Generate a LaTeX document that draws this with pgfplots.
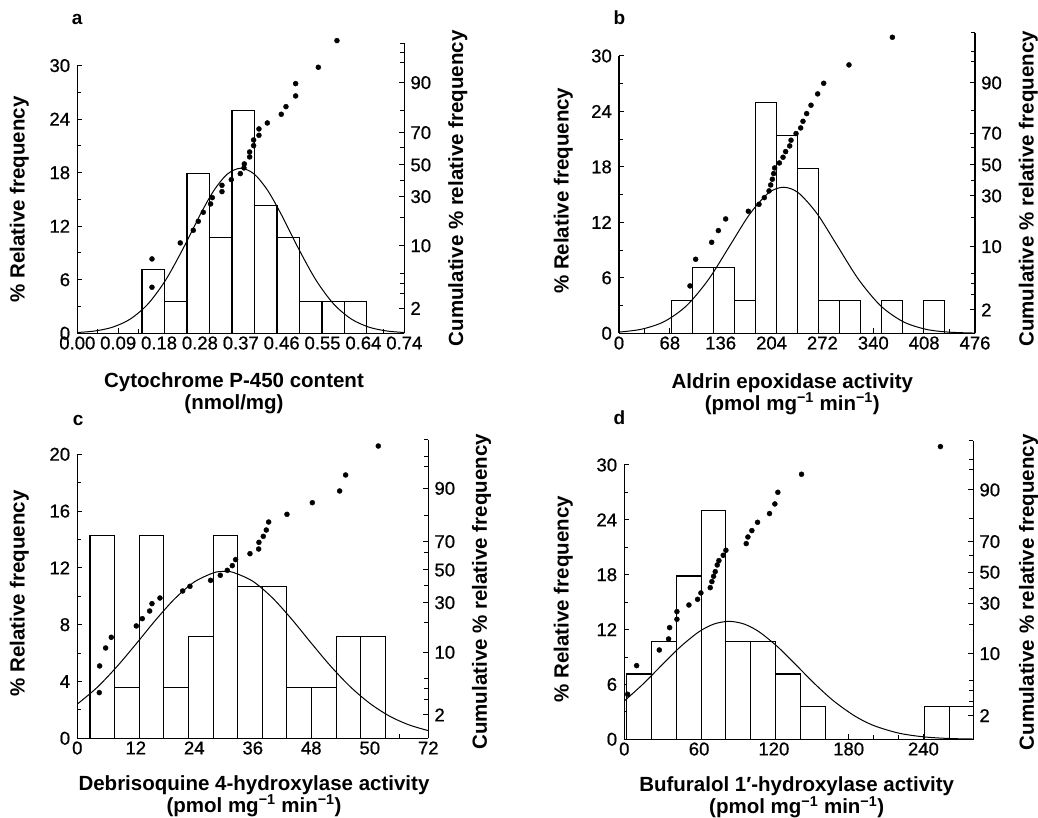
\documentclass[border=0pt]{standalone}
\usepackage{fontspec}
\setmainfont{Liberation Sans}
\newfontfamily\tickfont{Liberation Sans}[FakeBold=0.7]
\usepackage{pgfplots}
\pgfplotsset{compat=1.18}

\newcommand{\ticksize}{\tickfont\fontsize{18.5}{20}\selectfont}
\newcommand{\labsize}{\fontsize{20.5}{22}\selectfont\bfseries}
\newcommand{\letsize}{\fontsize{19}{20}\selectfont\bfseries}

\pgfplotsset{
  panel/.style={
    scale only axis, clip=false, anchor=south west,
    axis line style={-, line width=1.4pt},
    tick align=inside,
    major tick length=5pt, minor tick length=4pt,
    tick style={black, line width=1pt},
    tick label style={font=\ticksize},
    label style={font=\labsize},
    /pgf/number format/assume math mode=true,
  },
  freq/.style={
    panel,
    axis x line*=bottom, axis y line*=left,
    ymin=0,
    xticklabel style={inner sep=0pt, yshift=-3pt},
    yticklabel style={inner sep=0pt, xshift=-7pt},
    minor x tick num=1, minor y tick num=1,
    ylabel={\% Relative frequency},
    xlabel style={align=center, anchor=north, inner sep=0pt},
  },
  cum/.style={
    panel,
    axis x line=none, axis y line*=right,
    yticklabel style={inner sep=0pt, xshift=6pt},
    yticklabels={2,10,30,50,70,90},
    ylabel={Cumulative \% relative frequency},
  },
  hist/.style={ybar, bar width=#1, bar shift=0pt, fill=white, draw=black, line width=1.1pt},
  curve/.style={smooth, no marks, black, line width=1pt},
  dots/.style={only marks, mark=*, mark size=2.5pt, black},
}

\begin{document}
\begin{tikzpicture}
\path[use as bounding box] (0,0) rectangle (1038pt,818pt);

% ---------- a ----------
\begin{axis}[freq, at={(77.3pt,484.7pt)}, width=327pt, height=267.7pt,
  xmin=0, xmax=0.74, ymax=30,
  xtick={0,0.0925,0.185,0.2775,0.37,0.4625,0.555,0.6475,0.74},
  xticklabels={0.00,0.09,0.18,0.28,0.37,0.46,0.55,0.64,0.74},
  ytick={0,6,...,30},
  xlabel={Cytochrome P-450 content\\(nmol/mg)},
  xlabel style={at={(axis description cs:0.5,0)}, yshift=-39.4pt, xshift=-6.8pt},
  ylabel style={at={(axis description cs:-0.177,0.5)}, anchor=center},
]
\addplot[hist=0.0509] coordinates {
  (0.1719,7.14) (0.2228,3.57) (0.2737,17.86) (0.3246,10.71) (0.3755,25.00)
  (0.4264,14.29) (0.4773,10.71) (0.5282,3.57) (0.5791,3.57) (0.6300,3.57)};
\addplot[curve] coordinates {
  (0.00,0.087) (0.04,0.26) (0.08,0.687) (0.12,1.60) (0.16,3.29) (0.20,5.97)
  (0.24,9.55) (0.28,13.47) (0.31,16.07) (0.34,17.86) (0.37,18.5) (0.40,17.86)
  (0.43,16.07) (0.46,13.47) (0.50,9.55) (0.54,5.97) (0.58,3.29) (0.62,1.60)
  (0.66,0.687) (0.70,0.26) (0.74,0.087)};
\node[font=\letsize, anchor=base west, inner sep=0pt] at (axis description cs:-0.017,1.152) {a};
\end{axis}
\begin{axis}[cum, at={(77.3pt,484.7pt)}, width=327pt, height=290pt,
  xmin=0, xmax=0.74, ymin=-2.647, ymax=1.913,
  ytick={-2.254,-1.270,-0.498,0,0.508,1.294},
  minor ytick={-2.02,-1.86,-1.70,-0.82,-0.25,0.27,0.85,1.61,1.77,1.913},
  ylabel style={at={(axis description cs:1.164,0.5)}, anchor=center},
]
\addplot[dots] coordinates {
  (0.169,-1.923) (0.169,-1.478) (0.233,-1.226) (0.2625,-1.027) (0.2738,-0.886)
  (0.2851,-0.744) (0.3017,-0.613) (0.3055,-0.514) (0.3274,-0.419) (0.3274,-0.320)
  (0.3485,-0.231) (0.3689,-0.136) (0.3772,-0.047) (0.3779,0.016) (0.390,0.126)
  (0.390,0.204) (0.399,0.304) (0.399,0.393) (0.4111,0.466) (0.4111,0.566)
  (0.430,0.660) (0.4616,0.797) (0.4722,0.917) (0.4941,1.085) (0.4941,1.279)
  (0.5454,1.536) (0.5876,1.955)};
\end{axis}

% ---------- b ----------
\begin{axis}[freq, at={(619pt,484.7pt)}, width=356pt, height=277.3pt,
  xmin=0, xmax=476, ymax=30,
  xtick={0,68,...,476},
  ytick={0,6,...,30},
  xlabel={Aldrin epoxidase activity\\(pmol mg\textsuperscript{−1} min\textsuperscript{−1})},
  xlabel style={at={(axis description cs:0.5,0)}, yshift=-40pt, xshift=-4.7pt},
  ylabel style={at={(axis description cs:-0.1565,0.514)}, anchor=center},
]
\addplot[hist=28.08] coordinates {
  (84.4,3.57) (112.5,7.14) (140.6,7.14) (168.7,3.57) (196.8,25.0) (224.8,21.43)
  (252.9,17.86) (281.0,3.57) (309.1,3.57) (365.2,3.57) (421.4,3.57)};
\addplot[curve] coordinates {
  (0,0.13) (30,0.44) (60,1.25) (90,2.96) (120,5.86) (150,9.72) (175,12.92)
  (200,15.19) (220,15.8) (240,15.19) (265,12.92) (290,9.72) (320,5.86)
  (350,2.96) (380,1.25) (410,0.44) (440,0.13) (476,0.024)};
\node[font=\letsize, anchor=base west, inner sep=0pt] at (axis description cs:-0.016,1.112) {b};
\end{axis}
\begin{axis}[cum, at={(619pt,484.7pt)}, width=356pt, height=300.7pt,
  xmin=0, xmax=476, ymin=-2.631, ymax=2.068,
  ytick={-2.266,-1.276,-0.4845,0,0.495,1.2816},
  minor ytick={-2.02,-1.86,-1.70,-0.82,-0.25,0.27,0.85,1.61,1.77,2.068},
  ylabel style={at={(axis description cs:1.150,0.48)}, anchor=center},
]
\addplot[dots] coordinates {
  (94.9,-1.891) (102.5,-1.474) (123.9,-1.209) (132.8,-1.026) (142.6,-0.844)
  (172.9,-0.724) (187.2,-0.615) (194.3,-0.511) (200.6,-0.406) (202.8,-0.313)
  (205.0,-0.224) (206.8,-0.135) (208.1,-0.047) (214.4,0.031) (219.3,0.120)
  (222.8,0.208) (228.2,0.297) (230.0,0.386) (236.7,0.490) (242.9,0.578)
  (246.0,0.682) (250.9,0.802) (256.7,0.933) (265.6,1.110) (273.7,1.276)
  (307.5,1.563) (365.5,1.995)};
\end{axis}

% ---------- c ----------
\begin{axis}[freq, at={(77.3pt,79.7pt)}, width=351pt, height=284pt,
  xmin=0, xmax=72, ymax=20,
  xtick={0,12,...,72},
  xticklabels={0,12,24,36,48,50,72},
  ytick={0,4,...,20},
  xlabel={Debrisoquine 4-hydroxylase activity\\(pmol mg\textsuperscript{−1} min\textsuperscript{−1})},
  xlabel style={at={(axis description cs:0.5,0)}, yshift=-36.7pt, xshift=1.2pt},
  ylabel style={at={(axis description cs:-0.165,0.51)}, anchor=center},
]
\addplot[hist=5.05] coordinates {
  (5.13,14.29) (10.18,3.57) (15.23,14.29) (20.28,3.57) (25.33,7.14) (30.38,14.29)
  (35.43,10.71) (40.48,10.71) (45.53,3.57) (50.58,3.57) (55.63,7.14) (60.68,7.14)};
\addplot[curve] coordinates {
  (0,2.41) (4,3.56) (8,5.00) (12,6.62) (16,8.30) (20,9.83) (24,11.01) (28,11.66)
  (30.1,11.75) (32,11.68) (36,11.06) (40,9.90) (44,8.38) (48,6.70) (52,5.07)
  (56,3.63) (60,2.46) (64,1.57) (68,0.95) (72,0.54)};
\node[font=\letsize, anchor=base west, inner sep=0pt] at (axis description cs:-0.013,1.103) {c};
\end{axis}
\begin{axis}[cum, at={(77.3pt,79.7pt)}, width=351pt, height=298.3pt,
  xmin=0, xmax=72, ymin=-2.631, ymax=2.032,
  ytick={-2.266,-1.287,-0.511,0,0.443,1.276},
  minor ytick={-2.02,-1.86,-1.70,-0.82,-0.25,0.27,0.85,1.61,1.77,2.032},
  ylabel style={at={(axis description cs:1.152,0.491)}, anchor=center},
]
\addplot[dots] coordinates {
  (4.51,-1.917) (4.58,-1.500) (5.81,-1.219) (6.97,-1.052) (12.10,-0.875)
  (13.33,-0.761) (14.84,-0.641) (15.32,-0.526) (16.96,-0.438) (21.61,-0.328)
  (23.11,-0.255) (27.35,-0.162) (29.33,-0.083) (30.77,-0.005) (31.79,0.068)
  (32.48,0.162) (35.42,0.255) (37.20,0.328) (37.26,0.432) (38.15,0.526)
  (38.77,0.625) (39.25,0.750) (43.01,0.870) (48.21,1.052) (53.81,1.235)
  (55.04,1.485) (61.74,1.938)};
\end{axis}

% ---------- d ----------
\begin{axis}[freq, at={(624.3pt,78.7pt)}, width=349pt, height=274.3pt,
  xmin=0, xmax=280, ymax=30,
  xtick={0,60,...,240},
  minor xtick={20,40,80,100,140,160,200,220,260,280},
  ytick={0,6,...,30},
  xlabel={Bufuralol 1′-hydroxylase activity\\(pmol mg\textsuperscript{−1} min\textsuperscript{−1})},
  xlabel style={at={(axis description cs:0.5,0)}, yshift=-37.4pt, xshift=-2.1pt},
  ylabel style={at={(axis description cs:-0.175,0.511)}, anchor=center},
]
\addplot[hist=19.9] coordinates {
  (11.85,7.14) (31.75,10.71) (51.65,17.86) (71.55,25.0) (91.45,10.71)
  (111.35,10.71) (131.25,7.14) (151.15,3.57) (250.6,3.57) (270.5,3.57)};
\addplot[curve] coordinates {
  (0,4.19) (15,6.04) (30,8.10) (45,10.12) (60,11.77) (72,12.61) (84,12.9)
  (96,12.61) (108,11.77) (123,10.12) (138,8.10) (153,6.04) (168,4.19)
  (185,2.54) (200,1.51) (220,0.68) (240,0.27) (260,0.09) (280,0.03)};
\node[font=\letsize, anchor=base west, inner sep=0pt] at (axis description cs:-0.0315,1.146) {d};
\end{axis}
\begin{axis}[cum, at={(624.3pt,78.7pt)}, width=349pt, height=298.7pt,
  xmin=0, xmax=280, ymin=-2.620, ymax=2.066,
  ytick={-2.249,-1.276,-0.486,0,0.481,1.292},
  minor ytick={-2.02,-1.86,-1.70,-0.82,-0.25,0.27,0.85,1.61,1.77,2.066},
  ylabel style={at={(axis description cs:1.158,0.492)}, anchor=center},
]
\addplot[dots] coordinates {
  (2.67,-1.914) (9.89,-1.464) (28.06,-1.219) (35.54,-1.046) (36.34,-0.868)
  (42.22,-0.737) (42.22,-0.617) (51.84,-0.513) (58.79,-0.424) (61.46,-0.324)
  (68.95,-0.241) (70.28,-0.146) (71.62,-0.063) (72.96,0.010) (74.56,0.115)
  (75.90,0.183) (79.37,0.267) (81.51,0.345) (97.81,0.450) (99.15,0.554)
  (102.35,0.654) (106.89,0.784) (116.51,0.921) (120.79,1.072) (123.19,1.255)
  (142.17,1.538) (253.61,1.972)};
\end{axis}
\end{tikzpicture}
\end{document}
